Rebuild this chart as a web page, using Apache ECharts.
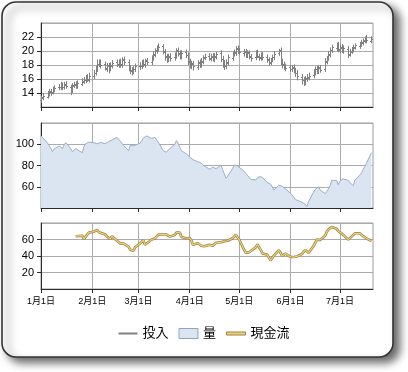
<!DOCTYPE html>
<html><head><meta charset="utf-8">
<script src="https://cdn.jsdelivr.net/npm/echarts@6/dist/echarts.min.js"></script>
<style>html,body{margin:0;padding:0;background:#fff}#c{width:408px;height:372px}</style>
</head><body><div id="c"></div>
<script>
// ---- data (trading days, Jan 1 2009 .. Jul 20 2009) ----
const startDate = [2009, 0, 1];
const endDate = [2009, 6, 20];
const monthStarts = ['2009-01-01','2009-02-01','2009-03-01','2009-04-01','2009-05-01','2009-06-01','2009-07-01'];
const seriesNames = ['投入', '量', '現金流'];

const openVals = [
 13.0,13.4,13.5,13.9,14.3,14.1,14.4,14.8,14.8,15.2,14.9,15.3,14.9,14.3,15.1,15.3,15.0,15.3,15.7,15.8,16.3,15.9,
 16.4,16.9,17.4,18.1,18.5,18.1,17.5,18.0,17.5,17.9,18.4,18.0,18.5,18.1,18.8,18.4,17.7,17.3,17.1,17.4,
 17.9,17.8,18.4,18.0,18.7,18.4,19.1,19.5,20.1,20.3,20.7,19.9,19.3,18.8,19.3,19.1,19.3,20.1,19.7,19.2,19.8,19.4,
 18.6,17.9,18.3,17.7,18.4,18.1,18.5,19.1,19.3,18.9,19.3,18.8,19.2,19.7,18.8,18.3,17.9,18.3,19.0,19.6,19.7,20.4,
 20.0,19.7,20.0,19.4,19.8,19.2,19.1,19.8,19.2,19.1,19.5,19.1,18.7,18.3,18.8,19.1,19.7,20.1,18.4,18.1,17.7,
 17.7,17.4,17.7,17.2,16.9,16.3,15.9,15.5,16.1,16.2,16.6,16.9,17.5,17.1,17.7,17.4,18.5,19.0,19.5,20.2,20.5,20.9,
 20.2,20.6,20.1,20.3,19.5,20.0,20.2,20.6,20.7,21.1,21.2,21.6,21.9,21.5
];
const highVals = [
 13.6,14.0,14.3,14.6,14.6,14.9,15.1,15.3,15.6,15.5,15.6,15.7,15.2,15.4,15.6,15.7,15.8,16.1,16.3,16.6,16.7,16.9,
 17.3,17.9,18.8,18.8,18.8,18.5,18.3,18.3,18.4,18.7,18.8,18.8,18.9,19.1,19.2,18.8,18.0,17.7,17.9,18.2,
 18.4,18.7,18.8,18.9,19.0,19.4,20.0,20.4,20.8,21.1,21.0,20.3,19.6,19.6,19.7,19.8,20.4,20.5,20.1,20.1,20.2,19.8,
 18.9,18.6,18.6,18.7,18.8,19.0,19.4,19.6,19.7,19.6,19.7,19.7,19.9,20.1,19.3,18.7,18.8,19.5,19.9,20.2,20.7,20.8,
 20.4,20.3,20.3,20.1,20.1,19.6,20.1,20.2,19.6,19.8,19.9,19.5,19.1,19.0,19.5,20.0,20.3,20.5,18.9,18.5,18.2,
 18.0,18.0,18.1,17.6,17.3,16.7,16.3,16.4,16.7,16.9,17.4,17.8,17.9,17.9,18.0,19.0,19.3,20.0,20.5,20.9,21.2,21.3,
 20.9,21.0,20.8,20.7,20.3,20.6,20.9,21.1,21.3,21.6,21.8,22.1,22.3,22.1
];
const lowVals = [
 12.6,13.0,13.2,13.5,13.6,13.8,14.1,14.4,14.4,14.4,14.5,14.6,13.7,14.0,14.7,14.6,14.6,15.0,15.3,15.4,15.6,15.5,
 16.0,16.5,17.0,17.7,17.5,17.2,17.0,16.8,17.1,17.5,17.7,17.6,17.6,17.6,18.0,17.1,16.7,16.5,16.7,17.0,
 17.3,17.4,17.7,17.6,18.0,18.0,18.6,19.1,19.6,19.9,19.5,18.6,18.3,18.4,18.5,18.6,18.9,19.2,18.8,18.8,19.0,18.0,
 17.5,17.4,17.2,17.3,17.6,17.6,18.1,18.7,18.6,18.5,18.5,18.4,18.8,18.4,17.6,17.3,17.4,17.9,18.6,19.2,19.3,19.6,
 19.4,19.2,19.0,19.0,18.8,18.5,18.7,19.0,18.6,18.6,18.7,18.3,17.9,18.0,18.4,18.7,19.3,18.0,17.5,17.3,17.1,
 17.0,17.0,16.8,16.3,15.8,15.2,15.0,15.1,15.6,15.8,16.1,16.5,16.7,16.7,16.9,17.0,18.1,18.6,19.1,19.7,20.0,19.8,
 19.7,19.7,19.6,19.0,19.2,19.6,19.8,20.2,20.3,20.6,20.8,21.1,21.1,21.1
];
const closeVals = [
 13.3,13.6,13.8,14.2,14.0,14.5,14.7,14.9,15.1,14.8,15.2,15.0,14.4,15.0,15.2,15.0,15.4,15.6,15.9,16.2,16.0,16.5,
 16.8,17.5,18.2,18.4,18.0,17.6,17.9,17.4,18.0,18.3,18.1,18.4,18.0,18.7,18.5,17.6,17.2,17.0,17.5,17.8,
 17.9,18.3,18.1,18.6,18.5,19.0,19.6,20.0,20.4,20.6,20.0,19.2,18.9,19.2,19.0,19.4,20.0,19.6,19.3,19.7,19.5,18.5,
 18.0,18.2,17.8,18.3,18.0,18.6,19.0,19.2,19.0,19.2,18.9,19.3,19.6,18.9,18.2,17.8,18.4,19.1,19.5,19.8,20.3,20.1,
 19.8,19.9,19.5,19.7,19.3,19.0,19.7,19.3,19.0,19.4,19.2,18.8,18.4,18.7,19.2,19.6,20.0,18.5,18.0,17.8,17.6,
 17.5,17.6,17.3,16.8,16.4,15.8,15.6,16.0,16.3,16.5,17.0,17.4,17.2,17.6,17.3,18.6,18.9,19.6,20.1,20.6,20.8,20.3,
 20.5,20.2,20.4,19.6,19.9,20.3,20.5,20.8,21.0,21.3,21.5,21.8,21.6,21.7
];
const volumeVals = [
 108,107,101,99.5,96,93,95.5,98.5,97,96,99.5,101.5,96,93,92,96,97,92,98,100.5,101,102,
 101.5,101,100.4,101,101.7,100.6,101.5,102.7,103,104,106.5,105,103,101,99,94,99,99.5,98.5,97,
 101,103.5,106,107.5,107.8,105.5,106,106.5,104,102,94,94.5,92.5,94.5,96,100,103.5,101,97,94,91,89.5,
 88,86.5,85.5,83.5,82,82.5,80.5,79,76.5,77.5,78.5,79,77,80.5,76,72,68,70,77,80.5,80,79.6,
 78,74.5,72.5,71,69,67,66.5,68,69.5,71,69,64,63.5,62.5,60,57,61.5,61,60.5,60,58,
 54,52.5,50.5,48,47,45.5,44.5,43.5,41.6,46,55,57.5,59,60,57,53.5,55.5,58,61,66,66,62,
 65.5,67,67.5,66,64,62.5,61,66,71,73,76,79,82,92
];
const cashVals = [
 null,null,null,null,null,null,null,null,null,null,null,null,null,null,null,64,63,64.6,60.8,63,65.9,68.5,
 69.5,71,71.5,68.7,66.5,66,63.5,62,60.6,64,58.5,56.5,55,55.3,55,51.5,47.7,46,46.5,50.5,
 55.5,54.5,59,53.5,53,60,60.6,61.2,62.5,65.9,66,67,66,64,63.5,65.5,68.5,69.5,68.5,63,61.5,61.5,
 61.8,59,53.7,55.5,54,52.5,52,51.7,53.5,55,52.5,52.5,56,56.6,58,58,56.6,58.5,61.5,61,65.9,62.5,
 60,47.5,43.6,43,44.5,45.7,50.5,54,52,47.5,43,41.8,38,34.7,37.5,40.5,47,44,40,42,43,
 38.8,37.8,38.7,40,39.5,42.5,44,47.3,46,44,52,55.8,59.8,58.5,59.5,64.5,69.5,72,74,75.2,73,70,
 68.5,67.5,66.2,59.8,62,63.5,65.5,67.5,67.5,66.5,64,63,61.5,58
];

// ---- build trading-day list (weekdays) ----
const dates = [];
{
  const d = new Date(startDate[0], startDate[1], startDate[2]);
  const e = new Date(endDate[0], endDate[1], endDate[2]);
  while (d <= e) {
    const wd = d.getDay();
    if (wd !== 0 && wd !== 6) dates.push(d.getTime());
    d.setDate(d.getDate() + 1);
  }
}
function parseDay(s){ const p = s.split('-').map(Number); return new Date(p[0], p[1]-1, p[2]).getTime(); }
const tickTs = monthStarts.map(parseDay);
const xMin = new Date(startDate[0], startDate[1], startDate[2]).getTime();
const xMax = new Date(2009, 6, 21).getTime();

const ohlcData = dates.map((t, i) => [t, openVals[i], highVals[i], lowVals[i], closeVals[i]]);
const volData = dates.map((t, i) => [t, volumeVals[i]]);
const cashData = dates.map((t, i) => [t, cashVals[i] == null ? '-' : cashVals[i]]);

const FONT = "'Liberation Sans', 'Noto Sans CJK JP', sans-serif";
const axisDark = '#2a2a2a';
const gridCol = '#ababab';
const ohlcCol = '#808080';
const cashLight = '#efd274', cashDark = '#9a8148';

const grids = [
  { left: 41, width: 332, top: 23, height: 84 },
  { left: 41, width: 332, top: 123, height: 85 },
  { left: 41, width: 332, top: 223, height: 66 }
].map(g => Object.assign(g, { show: true, borderColor: '#9a9a9a', borderWidth: 1, backgroundColor: 'transparent' }));

function xAxisFor(gi, showLabel) {
  return {
    type: 'value', gridIndex: gi, min: xMin, max: xMax,
    axisLine: { show: true, lineStyle: { color: axisDark, width: 1 } },
    axisTick: { show: true, length: 4, inside: false, customValues: tickTs, lineStyle: { color: axisDark } },
    axisLabel: {
      show: showLabel, customValues: tickTs, margin: 8, fontSize: 9, color: '#000', fontFamily: FONT,
      formatter: v => { const d = new Date(v); return (d.getMonth() + 1) + '月' + d.getDate() + '日'; }
    },
    splitLine: { show: true, lineStyle: { color: gridCol, width: 1 } }
  };
}
function yAxisFor(gi, min, max, interval) {
  return {
    type: 'value', gridIndex: gi, min, max, interval,
    axisLine: { show: true, lineStyle: { color: axisDark, width: 1 } },
    axisTick: { show: true, length: 4, lineStyle: { color: axisDark } },
    axisLabel: { showMinLabel: false, showMaxLabel: false, margin: 7, fontSize: 11, color: '#000', fontFamily: FONT },
    splitLine: { show: true, lineStyle: { color: gridCol, width: 1 } }
  };
}

const chart = echarts.init(document.getElementById('c'), null, { renderer: 'canvas' });
chart.setOption({
  animation: false,
  backgroundColor: '#fff',
  graphic: [{
    type: 'rect', z: -10, silent: true,
    shape: { x: 2, y: 2, width: 391, height: 355, r: 14 },
    style: { fill: '#fff', stroke: '#333', lineWidth: 1.6, shadowBlur: 8, shadowOffsetX: 6, shadowOffsetY: 5, shadowColor: 'rgba(0,0,0,0.6)' }
  }],
  grid: grids,
  xAxis: [xAxisFor(0, false), xAxisFor(1, false), xAxisFor(2, true)],
  yAxis: [yAxisFor(0, 12, 24, 2), yAxisFor(1, 40, 120, 20), yAxisFor(2, 0, 80, 20)],
  legend: {
    top: 322, left: 'center', itemWidth: 19, itemHeight: 10, itemGap: 10, symbolKeepAspect: true,
    textStyle: { fontSize: 13, color: '#000', fontFamily: FONT },
    data: [
      { name: seriesNames[0], icon: 'path://M0,0 L19,0 L19,2 L0,2 Z', itemStyle: { color: ohlcCol, borderWidth: 0 } },
      { name: seriesNames[1], icon: 'rect', itemStyle: { color: '#dbe5f1', borderColor: '#8fa3c2', borderWidth: 1 } },
      { name: seriesNames[2], icon: 'path://M0,0 L19,0 L19,3 L0,3 Z', itemStyle: { color: cashLight, borderColor: cashDark, borderWidth: 1 } }
    ]
  },
  series: [
    {
      name: seriesNames[0], type: 'custom', xAxisIndex: 0, yAxisIndex: 0, data: ohlcData,
      encode: { x: 0, y: [1, 2, 3, 4] }, clip: false, itemStyle: { color: ohlcCol },
      renderItem: (params, api) => {
        const t = api.value(0);
        const px = api.coord([t, api.value(1)]);
        const xr = Math.round(px[0]) + 0.5;
        const o = Math.round(px[1]) + 0.5;
        const h = api.coord([t, api.value(2)])[1];
        const l = api.coord([t, api.value(3)])[1];
        const c = Math.round(api.coord([t, api.value(4)])[1]) + 0.5;
        const st = { stroke: ohlcCol, lineWidth: 1 };
        return { type: 'group', children: [
          { type: 'line', shape: { x1: xr, y1: h, x2: xr, y2: l }, style: st },
          { type: 'line', shape: { x1: xr - 1.5, y1: o, x2: xr, y2: o }, style: st },
          { type: 'line', shape: { x1: xr, y1: c, x2: xr + 1.5, y2: c }, style: st }
        ] };
      }
    },
    {
      name: seriesNames[1], type: 'line', xAxisIndex: 1, yAxisIndex: 1, data: volData,
      symbol: 'none', lineStyle: { color: '#9cadc6', width: 1 },
      areaStyle: { color: '#dbe5f1', opacity: 1, origin: 'start' }, itemStyle: { color: '#dbe5f1' }
    },
    {
      name: seriesNames[2], type: 'line', xAxisIndex: 2, yAxisIndex: 2, data: cashData, z: 3,
      symbol: 'none', lineStyle: { color: cashLight, width: 1.2 }, itemStyle: { color: cashLight }
    },
    {
      name: seriesNames[2], type: 'line', xAxisIndex: 2, yAxisIndex: 2, data: cashData, z: 2,
      symbol: 'none', lineStyle: { color: cashDark, width: 2.6 }, itemStyle: { color: cashDark }
    }
  ]
});
</script></body></html>
